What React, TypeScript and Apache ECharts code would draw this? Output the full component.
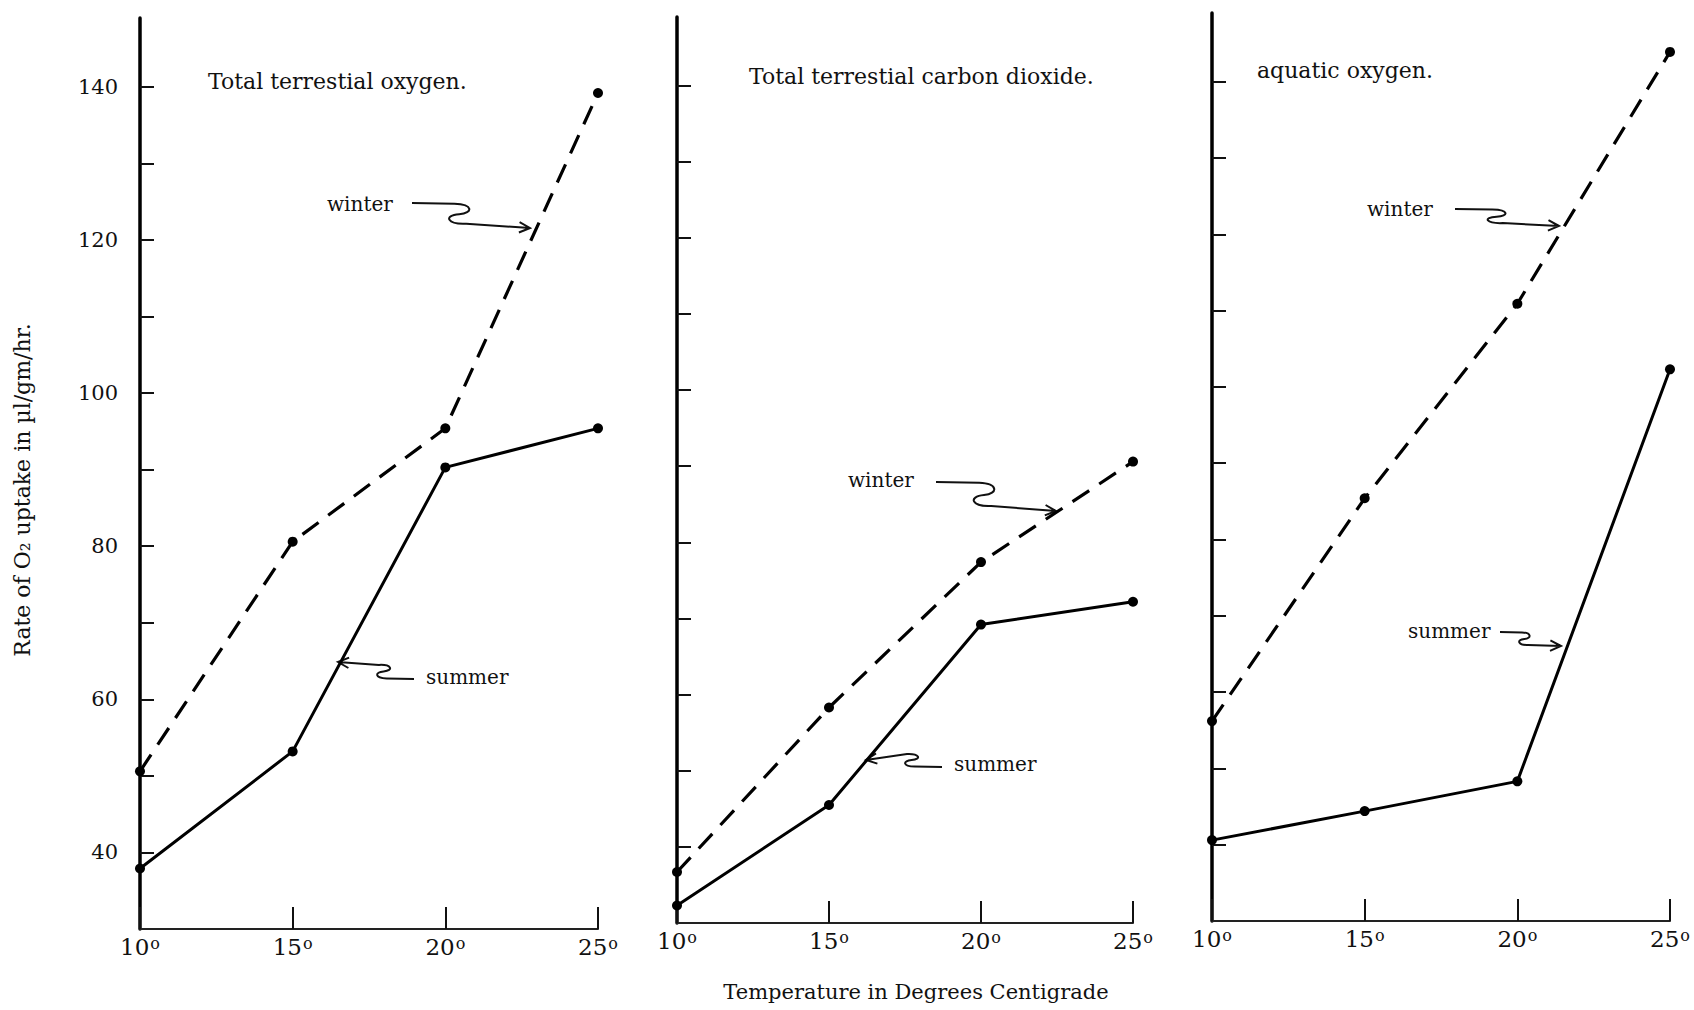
import React, { useEffect, useRef } from "react";
import * as echarts from "echarts";

// ---------------- data ----------------
const temperatures = [10, 15, 20, 25];
const yTickValues = [40, 50, 60, 70, 80, 90, 100, 110, 120, 130, 140];
const yLabelValues = [40, 60, 80, 100, 120, 140];
const panelTitles = [
  "Total terrestial oxygen.",
  "Total terrestial carbon dioxide.",
  "aquatic oxygen.",
];
const winterOxygen = [50.6, 80.6, 95.4, 139.2];
const summerOxygen = [37.9, 53.2, 90.3, 95.4];
const winterCO2 = [36.7, 58.3, 77.4, 90.6];
const summerCO2 = [32.3, 45.5, 69.2, 72.2];
const winterAquatic = [56.2, 85.4, 110.9, 143.9];
const summerAquatic = [40.6, 44.4, 48.3, 102.3];
const seasonLabels = ["winter", "summer"];
const xAxisTitle = "Temperature in Degrees Centigrade";
const yAxisTitle = "Rate of O\u2082 uptake in \u00b5l/gm/hr.";

// ---------------- layout ----------------
const FONT = "'DejaVu Serif', serif";
const INK = "#111";
const grids = [
  { left: 140, top: 18, width: 458, height: 911 },
  { left: 677, top: 17, width: 456, height: 906 },
  { left: 1212, top: 13, width: 458, height: 908 },
];
const titlePos = [
  [208, 81],
  [749, 76],
  [1257, 70],
];
// [textX, textY, tailX, tailY, tipX, tipY]
const annotations = [
  { text: seasonLabels[0], p: [327, 204, 412, 203, 530, 228] },
  { text: seasonLabels[1], p: [426, 677, 414, 679, 338, 662] },
  { text: seasonLabels[0], p: [848, 480, 936, 482, 1056, 511] },
  { text: seasonLabels[1], p: [954, 764, 942, 767, 866, 760] },
  { text: seasonLabels[0], p: [1367, 209, 1455, 209, 1559, 226] },
  { text: seasonLabels[1], p: [1408, 631, 1500, 632, 1561, 646] },
];

function squigglePath(tx: number, ty: number, hx: number, hy: number) {
  const dx = hx - tx;
  const dv = hy - ty;
  const sgn = dv >= 0 ? 1 : -1;
  const A = sgn * Math.max(Math.abs(dv) * 0.9, 14);
  const P = (u: number, v: number) =>
    `${(tx + u * dx).toFixed(1)} ${(ty + v * A).toFixed(1)}`;
  let d =
    `M${P(0, 0)} L${P(0.36, 0.03)} ` +
    `C${P(0.52, 0.06)} ${P(0.52, 0.45)} ${P(0.4, 0.5)} ` +
    `C${P(0.26, 0.56)} ${P(0.3, 0.96)} ${P(0.46, 0.92)} ` +
    `L${hx} ${hy}`;
  const sx = tx + 0.46 * dx;
  const sy = ty + 0.92 * A;
  const ax = hx - sx;
  const ay = hy - sy;
  const len = Math.hypot(ax, ay) || 1;
  const ux = ax / len;
  const uy = ay / len;
  const wing = (ang: number) => {
    const c = Math.cos(ang);
    const s = Math.sin(ang);
    const wx = -(ux * c - uy * s) * 12;
    const wy = -(ux * s + uy * c) * 12;
    return `${(hx + wx).toFixed(1)} ${(hy + wy).toFixed(1)}`;
  };
  d += ` M${wing(0.45)} L${hx} ${hy} L${wing(-0.45)}`;
  return d;
}

annotations.forEach((a, i) => {
  const [, , tx, ty, hx, hy] = a.p;
  echarts.graphic.registerShape(
    "squiggle" + i,
    echarts.graphic.extendPath(squigglePath(tx, ty, hx, hy), {}) as any
  );
});

const panels = [
  { winter: winterOxygen, summer: summerOxygen },
  { winter: winterCO2, summer: summerCO2 },
  { winter: winterAquatic, summer: summerAquatic },
];

function buildOption() {
  const xAxis = grids.map((_, i) => ({
    type: "value",
    gridIndex: i,
    min: 10,
    max: 25,
    interval: 5,
    axisLine: { show: true, onZero: false, lineStyle: { color: "#222", width: 2 } },
    axisTick: { show: true, inside: true, length: 22, lineStyle: { color: INK, width: 2 } },
    axisLabel: {
      margin: 6,
      formatter: (v: number) => `{n|${v}}{s|o}`,
      rich: {
        n: { fontSize: 23, fontFamily: FONT, color: INK },
        s: { fontSize: 16, fontFamily: FONT, color: INK, verticalAlign: "top", padding: [0, 0, 0, 1] },
      },
    },
    splitLine: { show: false },
  }));
  const yAxis = grids.map((_, i) => ({
    type: "value",
    gridIndex: i,
    min: 30,
    max: 149,
    interval: 10,
    axisLine: { show: true, onZero: false, lineStyle: { color: "#000", width: 3.5 } },
    axisTick: {
      show: true,
      inside: true,
      length: 14,
      customValues: yTickValues,
      lineStyle: { color: INK, width: 2 },
    },
    axisLabel: {
      show: i === 0,
      customValues: yLabelValues,
      margin: 22,
      fontSize: 21,
      fontFamily: FONT,
      color: INK,
    },
    splitLine: { show: false },
  }));
  const series: any[] = [];
  panels.forEach((p, i) => {
    series.push({
      type: "line",
      name: "winter",
      xAxisIndex: i,
      yAxisIndex: i,
      data: temperatures.map((t, k) => [t, p.winter[k]]),
      symbol: "circle",
      symbolSize: 10,
      itemStyle: { color: "#000" },
      lineStyle: { color: "#000", width: 3.2, type: [20, 12] },
      z: 3,
    });
    series.push({
      type: "line",
      name: "summer",
      xAxisIndex: i,
      yAxisIndex: i,
      data: temperatures.map((t, k) => [t, p.summer[k]]),
      symbol: "circle",
      symbolSize: 10,
      itemStyle: { color: "#000" },
      lineStyle: { color: "#000", width: 3 },
      z: 3,
    });
  });

  const graphic: any[] = [];
  panelTitles.forEach((t, i) => {
    graphic.push({
      type: "text",
      x: titlePos[i][0],
      y: titlePos[i][1],
      style: { text: t, font: `22px ${FONT}`, fill: INK, textVerticalAlign: "middle" },
    });
  });
  annotations.forEach((a, i) => {
    graphic.push({
      type: "text",
      x: a.p[0],
      y: a.p[1],
      style: { text: a.text, font: `20px ${FONT}`, fill: INK, textVerticalAlign: "middle" },
    });
    graphic.push({
      type: "squiggle" + i,
      x: 0,
      y: 0,
      style: { stroke: INK, fill: "none", lineWidth: 2 },
    });
  });
  graphic.push({
    type: "text",
    x: 916,
    y: 992,
    style: { text: xAxisTitle, font: `21px ${FONT}`, fill: INK, textAlign: "center", textVerticalAlign: "middle" },
  });
  graphic.push({
    type: "text",
    x: 22,
    y: 490,
    rotation: Math.PI / 2,
    style: { text: yAxisTitle, font: `22px ${FONT}`, fill: INK, textAlign: "center", textVerticalAlign: "middle" },
  });

  return {
    animation: false,
    backgroundColor: "#fff",
    grid: grids.map((g) => ({ ...g, containLabel: false })),
    xAxis,
    yAxis,
    series,
    graphic,
  };
}

export default function App() {
  const ref = useRef<HTMLDivElement>(null);
  useEffect(() => {
    if (!ref.current) return;
    const chart = echarts.init(ref.current, undefined, { renderer: "svg" });
    chart.setOption(buildOption() as any);
    return () => chart.dispose();
  }, []);
  return (
    <div
      ref={ref}
      style={{ position: "absolute", left: 0, top: 0, width: 1694, height: 1010, background: "#fff" }}
    />
  );
}
